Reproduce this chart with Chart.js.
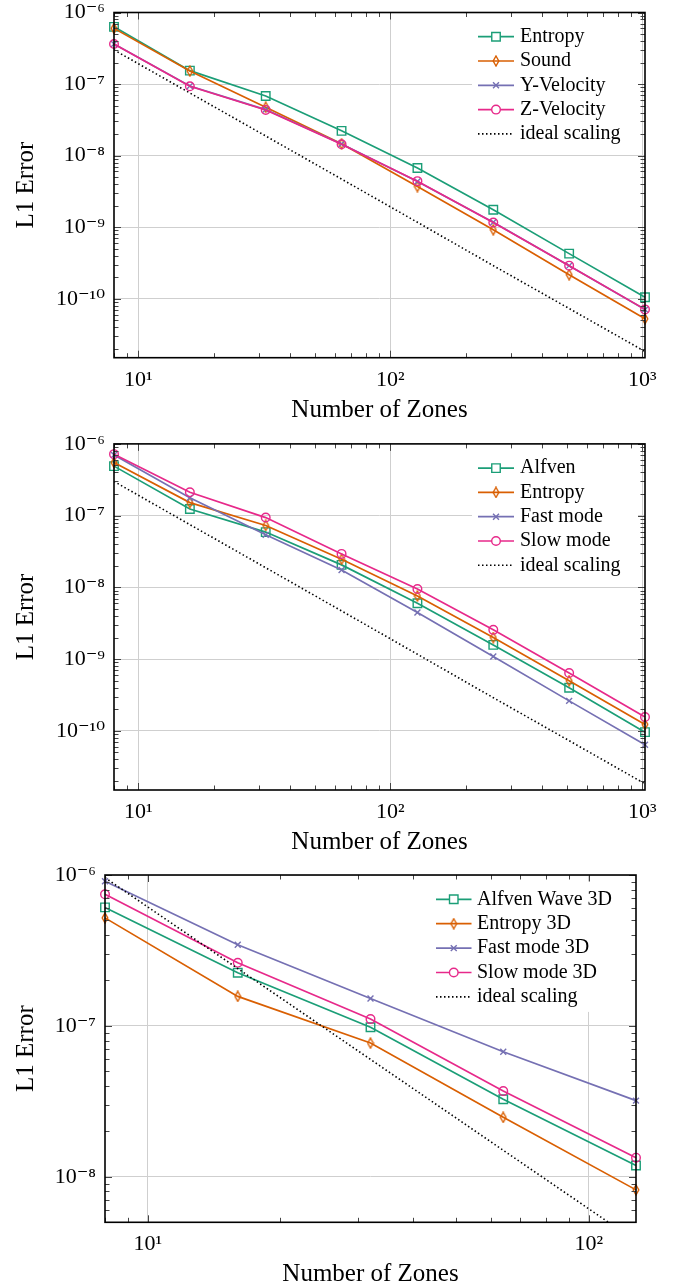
<!DOCTYPE html>
<html><head><meta charset="utf-8">
<script src="https://cdn.jsdelivr.net/npm/chart.js@4.4.1/dist/chart.umd.min.js"></script>
<style>
html,body{margin:0;padding:0;background:#fff;}
body{width:687px;height:1288px;position:relative;overflow:hidden;}
.panel{position:absolute;left:0;width:687px;}
</style></head><body>
<div class="panel" style="top:0;height:430px"><canvas id="c1"></canvas></div>
<div class="panel" style="top:430px;height:430px"><canvas id="c2"></canvas></div>
<div class="panel" style="top:860px;height:428px"><canvas id="c3"></canvas></div>
<script>
// ---------- DATA ----------
const zones2D = [8, 16, 32, 64, 128, 256, 512, 1024];
const zones3D = [8, 16, 32, 64, 128];

// Panel 1
const p1Labels = ['Entropy', 'Sound', 'Y-Velocity', 'Z-Velocity', 'ideal scaling'];
const p1Entropy = [6.3e-7, 1.54e-7, 6.8e-8, 2.22e-8, 6.7e-9, 1.75e-9, 4.27e-10, 1.05e-10];
const p1Sound   = [6.0e-7, 1.52e-7, 4.75e-8, 1.46e-8, 3.7e-9, 9.2e-10, 2.17e-10, 5.25e-11];
const p1YVel    = [3.63e-7, 9.4e-8, 4.4e-8, 1.45e-8, 4.36e-9, 1.17e-9, 2.9e-10, 7.05e-11];
const p1ZVel    = [3.63e-7, 9.3e-8, 4.35e-8, 1.44e-8, 4.4e-9, 1.16e-9, 2.9e-10, 7.1e-11];
const p1Ideal   = [3.0e-7, 7.5e-8, 1.88e-8, 4.7e-9, 1.17e-9, 2.9e-10, 7.3e-11, 1.83e-11];

// Panel 2
const p2Labels = ['Alfven', 'Entropy', 'Fast mode', 'Slow mode', 'ideal scaling'];
const p2Alfven  = [4.9e-7, 1.24e-7, 5.9e-8, 2.06e-8, 6.0e-9, 1.58e-9, 4.0e-10, 9.6e-11];
const p2Entropy = [5.5e-7, 1.52e-7, 7.3e-8, 2.47e-8, 7.6e-9, 2.0e-9, 5.0e-10, 1.23e-10];
const p2Fast    = [7.0e-7, 1.78e-7, 5.4e-8, 1.75e-8, 4.46e-9, 1.09e-9, 2.62e-10, 6.4e-11];
const p2Slow    = [7.2e-7, 2.12e-7, 9.4e-8, 2.93e-8, 9.5e-9, 2.56e-9, 6.4e-10, 1.56e-10];
const p2Ideal   = [3.0e-7, 7.5e-8, 1.88e-8, 4.7e-9, 1.17e-9, 2.9e-10, 7.3e-11, 1.83e-11];

// Panel 3
const p3Labels = ['Alfven Wave 3D', 'Entropy 3D', 'Fast mode 3D', 'Slow mode 3D', 'ideal scaling'];
const p3Alfven  = [6.1e-7, 2.25e-7, 9.8e-8, 3.27e-8, 1.19e-8];
const p3Entropy = [5.2e-7, 1.57e-7, 7.7e-8, 2.48e-8, 8.2e-9];
const p3Fast    = [9.1e-7, 3.45e-7, 1.52e-7, 6.75e-8, 3.2e-8];
const p3Slow    = [7.45e-7, 2.62e-7, 1.11e-7, 3.7e-8, 1.34e-8];
const p3Ideal   = [9.6e-7, 2.4e-7, 6.0e-8, 1.5e-8, 3.75e-9];

// Ticks
const xTicks2D = [10, 100, 1000];
const xTickLabels2D = ['10¹', '10²', '10³'];
const xTicks3D = [10, 100];
const xTickLabels3D = ['10¹', '10²'];
const yTicks2D = [1e-6, 1e-7, 1e-8, 1e-9, 1e-10];
const yTickLabels2D = ['10⁻⁶', '10⁻⁷', '10⁻⁸', '10⁻⁹', '10⁻¹⁰'];
const yTicks3D = [1e-6, 1e-7, 1e-8];
const yTickLabels3D = ['10⁻⁶', '10⁻⁷', '10⁻⁸'];

const xTitle = 'Number of Zones';
const yTitle = 'L1 Error';

// ---------- STYLE ----------
const FONT = "'Liberation Serif', 'DejaVu Serif', serif";
Chart.defaults.font.family = FONT;
Chart.defaults.color = '#000';

function diamondCanvas(color) {
  const c = document.createElement('canvas');
  c.width = 8; c.height = 12;
  const g = c.getContext('2d');
  g.strokeStyle = color; g.lineWidth = 1.4;
  g.beginPath();
  g.moveTo(4, 1); g.lineTo(6.8, 6); g.lineTo(4, 11); g.lineTo(1.2, 6); g.closePath();
  g.stroke();
  return c;
}
const GREEN = '#1b9e77', ORANGE = '#d95f02', PURPLE = '#7570b3', PINK = '#e7298a';
const seriesStyles = [
  {color: GREEN, pointStyle: 'rect', radius: 6},
  {color: ORANGE, pointStyle: diamondCanvas(ORANGE), radius: 5},
  {color: PURPLE, pointStyle: 'crossRot', radius: 4.2},
  {color: PINK, pointStyle: 'circle', radius: 4.3},
  {color: '#000', pointStyle: false, radius: 0, dash: [1.5, 2.5]}
];

// ---------- PLUGINS ----------
function minorValues(min, max) {
  const out = [];
  const d0 = Math.floor(Math.log10(min)) , d1 = Math.ceil(Math.log10(max));
  for (let d = d0; d <= d1; d++) {
    for (let k = 1; k <= 9; k++) {
      const v = k * Math.pow(10, d);
      if (v >= min * 0.999 && v <= max * 1.001) out.push({v, major: k === 1});
    }
  }
  return out;
}

const framePlugin = {
  id: 'frame',
  afterDatasetsDraw(chart) {
    const {ctx, chartArea: a, scales: {x, y}} = chart;
    ctx.save();
    ctx.strokeStyle = '#444';
    ctx.lineWidth = 1;
    ctx.beginPath();
    for (const t of minorValues(x.min, x.max)) {
      const px = Math.round(x.getPixelForValue(t.v)) + 0.5;
      const len = t.major ? 7 : 4.5;
      ctx.moveTo(px, a.bottom); ctx.lineTo(px, a.bottom - len);
      ctx.moveTo(px, a.top); ctx.lineTo(px, a.top + len);
    }
    for (const t of minorValues(y.min, y.max)) {
      const py = Math.round(y.getPixelForValue(t.v)) + 0.5;
      const len = t.major ? 7 : 4.5;
      ctx.moveTo(a.left, py); ctx.lineTo(a.left + len, py);
      ctx.moveTo(a.right, py); ctx.lineTo(a.right - len, py);
    }
    ctx.stroke();
    ctx.strokeStyle = '#000';
    ctx.lineWidth = 1.6;
    ctx.strokeRect(a.left, a.top, a.right - a.left, a.bottom - a.top);
    ctx.restore();
  }
};

const boxLegendPlugin = {
  id: 'boxLegend',
  afterDraw(chart, args, opts) {
    const {ctx, chartArea: a} = chart;
    const L = opts;
    const n = chart.data.datasets.length;
    const rowY = i => a.top + L.firstRow + i * L.rowGap;
    ctx.save();
    ctx.fillStyle = '#fff';
    const bTop = a.top + 6.5, bBot = rowY(n - 1) + 15;
    ctx.fillRect(a.right - L.boxLeft, bTop, L.boxLeft - 7, bBot - bTop);
    chart.data.datasets.forEach((ds, i) => {
      const yy = rowY(i);
      const x0 = a.right - L.lineStart, x1 = a.right - L.lineEnd;
      ctx.strokeStyle = ds.borderColor;
      ctx.lineWidth = ds.borderWidth;
      ctx.setLineDash(ds.borderDash || []);
      ctx.beginPath(); ctx.moveTo(x0, yy); ctx.lineTo(x1, yy); ctx.stroke();
      ctx.setLineDash([]);
      if (ds.pointStyle) {
        ctx.lineWidth = ds.pointBorderWidth;
        ctx.strokeStyle = ds.borderColor;
        ctx.fillStyle = '#fff';
        Chart.helpers.drawPoint(ctx, {pointStyle: ds.pointStyle, radius: ds.pointRadius, borderWidth: ds.pointBorderWidth, rotation: 0}, (x0 + x1) / 2, yy);
      }
      ctx.fillStyle = '#000';
      ctx.font = "20px " + FONT;
      ctx.textBaseline = 'middle';
      ctx.textAlign = 'left';
      ctx.fillText(ds.label, a.right - L.text, yy);
    });
    ctx.restore();
  }
};

// ---------- BUILD ----------
function makePanel(id, spec) {
  const datasets = spec.series.map((ys, i) => {
    const st = seriesStyles[i];
    const ds = {
      label: spec.labels[i],
      data: spec.xs.map((x, j) => ({x, y: ys[j]})),
      borderColor: st.color,
      backgroundColor: 'rgba(0,0,0,0)',
      borderWidth: 1.7,
      pointStyle: st.pointStyle,
      pointRadius: st.radius,
      pointHoverRadius: st.radius,
      pointBorderWidth: 1.4,
      pointBorderColor: st.color,
      pointBackgroundColor: 'rgba(0,0,0,0)',
      tension: 0,
      order: -i
    };
    if (st.dash) { ds.borderDash = st.dash; ds.pointRadius = 0; ds.borderCapStyle = 'butt'; ds.borderWidth = 1.6; }
    else { ds.clip = false; }
    return ds;
  });
  const g = spec.geom;
  const findLabel = (vals, labs, v) => {
    const k = vals.findIndex(t => Math.abs(Math.log10(t) - Math.log10(v)) < 1e-6);
    return k >= 0 ? labs[k] : '';
  };
  new Chart(document.getElementById(id), {
    type: 'line',
    data: {datasets},
    options: {
      responsive: true,
      maintainAspectRatio: false,
      animation: false,
      events: [],
      layout: {padding: {left: 0, top: g.T, right: 687 - g.R, bottom: 0}},
      plugins: {
        legend: {display: false},
        tooltip: {enabled: false},
        boxLegend: spec.legend
      },
      scales: {
        x: {
          type: 'logarithmic',
          min: spec.xMin, max: spec.xMax,
          afterBuildTicks: s => { s.ticks = spec.xTicks.map(v => ({value: v})); },
          afterFit: s => { s.height = g.H - g.B; s.paddingLeft = 0; s.paddingRight = 0; },
          grid: {color: '#cfcfcf', lineWidth: 1, drawTicks: false},
          border: {display: false},
          ticks: {
            autoSkip: false, maxRotation: 0, padding: 9,
            font: {size: 22, lineHeight: 1.2},
            callback: v => findLabel(spec.xTicks, spec.xTickLabels, v)
          },
          title: {display: true, text: xTitle, font: {size: 25, lineHeight: 1}, padding: {top: 0, bottom: g.xTitlePad}}
        },
        y: {
          type: 'logarithmic',
          min: spec.yMin, max: spec.yMax,
          afterBuildTicks: s => { s.ticks = spec.yTicks.map(v => ({value: v})); },
          afterFit: s => { s.width = g.L; s.paddingTop = 0; s.paddingBottom = 0; },
          grid: {color: '#cfcfcf', lineWidth: 1, drawTicks: false},
          border: {display: false},
          ticks: {
            autoSkip: false, padding: 9,
            font: {size: 22, lineHeight: 1.2},
            callback: v => findLabel(spec.yTicks, spec.yTickLabels, v)
          },
          title: {display: true, text: yTitle, font: {size: 25, lineHeight: 1}, padding: {top: 14, bottom: 0}}
        }
      }
    },
    plugins: [framePlugin, boxLegendPlugin]
  });
}

const legend2D = {firstRow: 24.2, rowGap: 24.3, lineStart: 167, lineEnd: 131, text: 125, boxLeft: 173};
const legend3D = {firstRow: 24.3, rowGap: 24.4, lineStart: 200, lineEnd: 164.5, text: 159, boxLeft: 206};

makePanel('c1', {
  xs: zones2D, series: [p1Entropy, p1Sound, p1YVel, p1ZVel, p1Ideal], labels: p1Labels,
  xMin: 8, xMax: 1024, yMin: 1.5e-11, yMax: 1e-6,
  xTicks: xTicks2D, xTickLabels: xTickLabels2D, yTicks: yTicks2D, yTickLabels: yTickLabels2D,
  geom: {L: 114, R: 645, T: 12.5, B: 357.7, H: 430, xTitlePad: 7.5},
  legend: legend2D
});
makePanel('c2', {
  xs: zones2D, series: [p2Alfven, p2Entropy, p2Fast, p2Slow, p2Ideal], labels: p2Labels,
  xMin: 8, xMax: 1024, yMin: 1.5e-11, yMax: 1e-6,
  xTicks: xTicks2D, xTickLabels: xTickLabels2D, yTicks: yTicks2D, yTickLabels: yTickLabels2D,
  geom: {L: 114, R: 645, T: 13.9, B: 360, H: 430, xTitlePad: 5.5},
  legend: legend2D
});
makePanel('c3', {
  xs: zones3D, series: [p3Alfven, p3Entropy, p3Fast, p3Slow, p3Ideal], labels: p3Labels,
  xMin: 8, xMax: 128, yMin: 5e-9, yMax: 1e-6,
  xTicks: xTicks3D, xTickLabels: xTickLabels3D, yTicks: yTicks3D, yTickLabels: yTickLabels3D,
  geom: {L: 105, R: 636, T: 15, B: 362.3, H: 428, xTitlePad: 1.5},
  legend: legend3D
});
</script>
</body></html>
